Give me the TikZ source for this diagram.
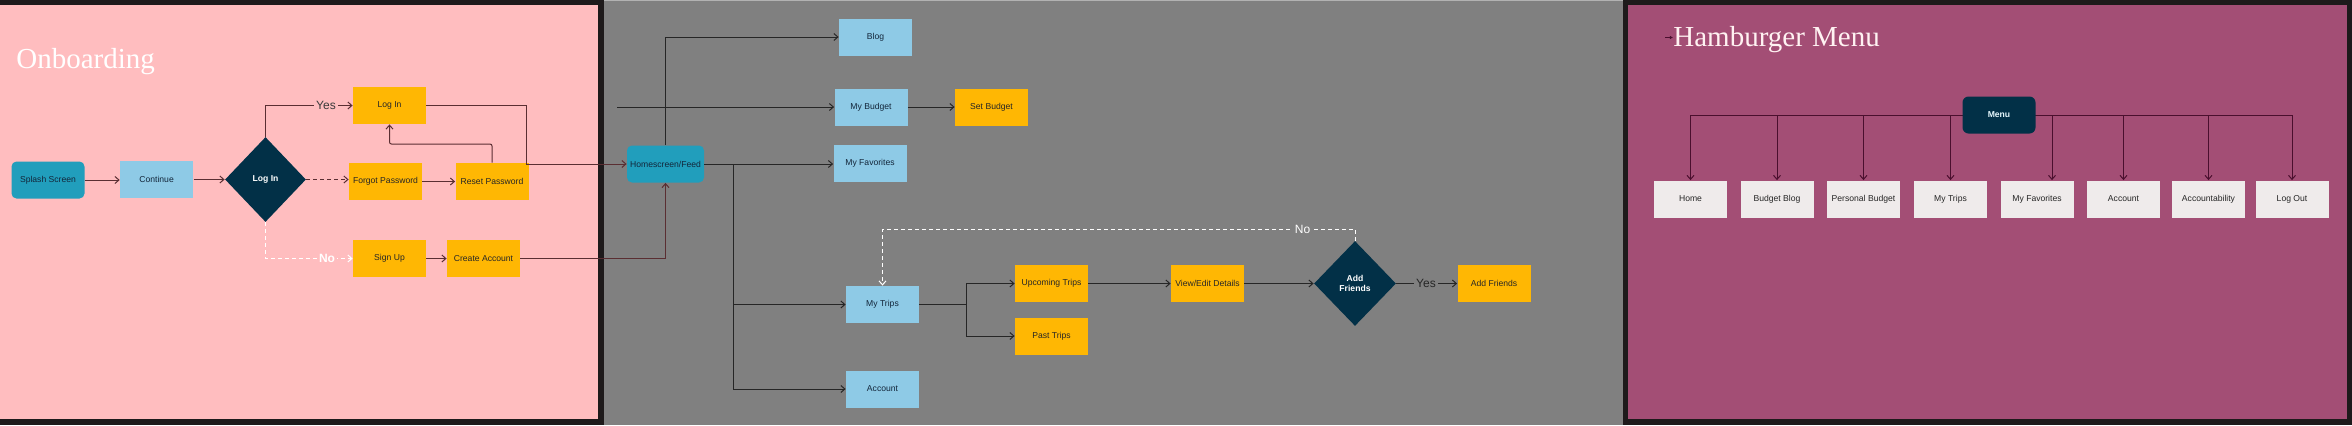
\documentclass[tikz,border=0pt]{standalone}
\usepackage{fontspec}
\setmainfont{Liberation Sans}
\newfontfamily\ttlfont{Liberation Serif}
\usetikzlibrary{arrows.meta,shapes.geometric,calc}
\definecolor{pinkbg}{HTML}{FFBDBF}
\definecolor{graybg}{HTML}{808080}
\definecolor{plumbg}{HTML}{A34E75}
\definecolor{framec}{HTML}{1E1A1B}
\definecolor{lblue}{HTML}{8ECAE6}
\definecolor{tealc}{HTML}{219EBC}
\definecolor{navy}{HTML}{023047}
\definecolor{amber}{HTML}{FFB703}
\definecolor{menuitem}{HTML}{EFEBEB}
\definecolor{pinkline}{HTML}{5A2E32}
\definecolor{grayline}{HTML}{262626}
\definecolor{plumline}{HTML}{4A0F2E}
\definecolor{boxtext}{HTML}{13263A}
\definecolor{lbltext}{HTML}{3A3A3A}
\newcommand{\boxfont}{\fontsize{4.3pt}{5.2pt}\selectfont}
\newcommand{\lblfont}{\fontsize{6pt}{7pt}\selectfont}
\newcommand{\ttlsize}{\fontsize{14.5pt}{16pt}\selectfont}
\tikzset{
  box/.style={rectangle, minimum width=36.5pt, minimum height=18.5pt, inner sep=0pt, font=\boxfont, text=boxtext},
  bluebox/.style={box, fill=lblue},
  ambox/.style={box, fill=amber, text=black!85},
  tealbox/.style={box, fill=tealc, rounded corners=2.5pt},
  decision/.style={diamond, fill=navy, text=white, font=\boxfont\bfseries, inner sep=0pt, minimum width=40.5pt, minimum height=42.5pt, align=center},
  itembox/.style={box, fill=menuitem, text=black!85},
  menubox/.style={box, fill=navy, rounded corners=3pt, text=white, font=\boxfont\bfseries},
  conn/.style={line width=0.5pt, -{Straight Barb[length=2pt,width=3.5pt]}},
  lbl/.style={inner sep=1pt, font=\lblfont},
  ttl/.style={anchor=base west, inner sep=0pt, text=white, font=\ttlfont\ttlsize}
}
\begin{document}
\begin{tikzpicture}[x=0.5pt, y=-0.5pt]
\useasboundingbox (0,0) rectangle (2352,425);
% panels
\fill[framec] (0,0) rectangle (604,425);
\fill[pinkbg] (0,5) rectangle (597.7,419.3);
\fill[graybg] (604,0) rectangle (1623,425);
\fill[gray!60] (604,0) rectangle (1623,1.2);
\fill[framec] (1622.7,0) rectangle (2352,425);
\fill[plumbg] (1628,5) rectangle (2346.7,419.3);
% titles
\node[ttl] (ttlA) at (16,68.5) {Onboarding};
\node[ttl, text=pink!20!white] (ttlB) at (1673,46.5) {Hamburger Menu};
\coordinate (ttlarrow) at (1665,37.5);
\draw[plumline, line width=0.4pt, -{Latex[length=1.6pt,width=1.8pt]}] (ttlarrow) -- (ttlB.west |- ttlarrow);
% ---------------- onboarding ----------------
\node[tealbox] (splash) at (48,180) {Splash Screen};
\node[bluebox] (cont) at (156.6,179.5) {Continue};
\node[decision] (login) at (265.5,179.5) {Log In};
\node[ambox] (loginY) at (389.5,105.5) {Log In};
\node[ambox] (forgot) at (385.5,181.5) {Forgot Password};
\node[ambox] (reset) at (492,181.5) {Reset Password};
\node[ambox] (signup) at (389.5,258.5) {Sign Up};
\node[ambox] (create) at (483.5,258.5) {Create Account};
\begin{scope}[pinkline]
\draw[conn] (splash.east) -- (cont.west |- splash.east);
\draw[conn] (cont.east) -- (login.west);
\draw[conn] (login.north) |- (loginY.west);
\node[lbl, fill=pinkbg, text=lbltext] (yesA) at (326,105.5) {Yes};
\draw[conn, dashed, dash pattern=on 2pt off 1.5pt] (login.east) -- (forgot.west |- login.east);
\draw[conn] (forgot.east) -- (reset.west);
\draw[conn, rounded corners=1pt] (reset.north) -- (reset.north |- {(0,144)}) -| (loginY.south);
\draw[conn, dashed, white, dash pattern=on 2pt off 1.5pt] (login.south) |- (signup.west);
\node[lbl, fill=pinkbg, text=white, font=\lblfont\bfseries] (noA) at (327,258.5) {No};
\draw[conn] (signup.east) -- (create.west);
\end{scope}
% ---------------- main ----------------
\node[tealbox, minimum width=38.5pt] (home) at (665.5,164) {Homescreen/Feed};
\node[bluebox] (blog) at (875.5,37) {Blog};
\node[bluebox] (mybudget) at (871,107) {My Budget};
\node[ambox] (setbudget) at (991.5,107) {Set Budget};
\node[bluebox] (myfav) at (870,163) {My Favorites};
\node[bluebox] (mytrips) at (882.5,304.5) {My Trips};
\node[ambox] (upcoming) at (1051.5,283.5) {Upcoming Trips};
\node[ambox] (past) at (1051.5,336) {Past Trips};
\node[bluebox] (account) at (882.5,389) {Account};
\node[ambox] (viewedit) at (1207.5,283.5) {View/Edit Details};
\node[decision, minimum width=41pt] (addfr) at (1355,283.5) {Add\\Friends};
\node[ambox] (addfriends) at (1494,283.5) {Add Friends};
\coordinate (budgetstart) at (617,107);
\coordinate (trunk) at (733.3,164);
\coordinate (tripfork) at (966.7,304.5);
\begin{scope}[grayline]
\draw[conn, pinkline] (loginY.east) -- (526.5,105.5) -- (526.5,164) -- (home.west);
\draw[conn, pinkline] (create.east) -| (home.south);
\draw[conn] (home.north) |- (blog.west);
\draw[conn] (budgetstart) -- (mybudget.west);
\draw[conn] (mybudget.east) -- (setbudget.west);
\draw[conn] (home.east) -- (myfav.west |- home.east);
\draw[conn] (trunk) |- (mytrips.west);
\draw[conn] (trunk) |- (account.west);
\draw[line width=0.5pt] (mytrips.east) -- (tripfork);
\draw[conn] (tripfork) |- (upcoming.west);
\draw[conn] (tripfork) |- (past.west);
\draw[conn] (upcoming.east) -- (viewedit.west);
\draw[conn] (viewedit.east) -- (addfr.west);
\draw[conn] (addfr.east) -- (addfriends.west);
\node[lbl, fill=graybg, text=black!85] (yesB) at (1426,283.5) {Yes};
\draw[conn, white, dashed, dash pattern=on 2pt off 1.5pt] (addfr.north) -- (addfr.north |- {(0,229)}) -| (mytrips.north);
\node[lbl, fill=graybg, text=white] (noB) at (1302.6,229) {No};
\end{scope}
% ---------------- hamburger ----------------
\node[itembox] (hhome) at (1690.5,199) {Home};
\node[itembox] (hblog) at (1777,199) {Budget Blog};
\node[itembox] (hpbud) at (1863.5,199) {Personal Budget};
\node[itembox] (htrips) at (1950.5,199) {My Trips};
\node[itembox] (hfav) at (2037,199) {My Favorites};
\node[itembox] (hacc) at (2123.5,199) {Account};
\node[itembox] (hacct) at (2208.5,199) {Accountability};
\node[itembox] (hlog) at (2292,199) {Log Out};
\coordinate (menuC) at (1999,115);
\begin{scope}[plumline]
\draw[conn] (menuC) -| (hhome.north);
\draw[conn] (menuC) -| (hblog.north);
\draw[conn] (menuC) -| (hpbud.north);
\draw[conn] (menuC) -| (htrips.north);
\draw[conn] (menuC) -| ($(hfav.north)+(15,0)$);
\draw[conn] (menuC) -| (hacc.north);
\draw[conn] (menuC) -| (hacct.north);
\draw[conn] (menuC) -| (hlog.north);
\end{scope}
\node[menubox, text=cyan!10!white] (menu) at (menuC) {Menu};
\end{tikzpicture}
\end{document}
